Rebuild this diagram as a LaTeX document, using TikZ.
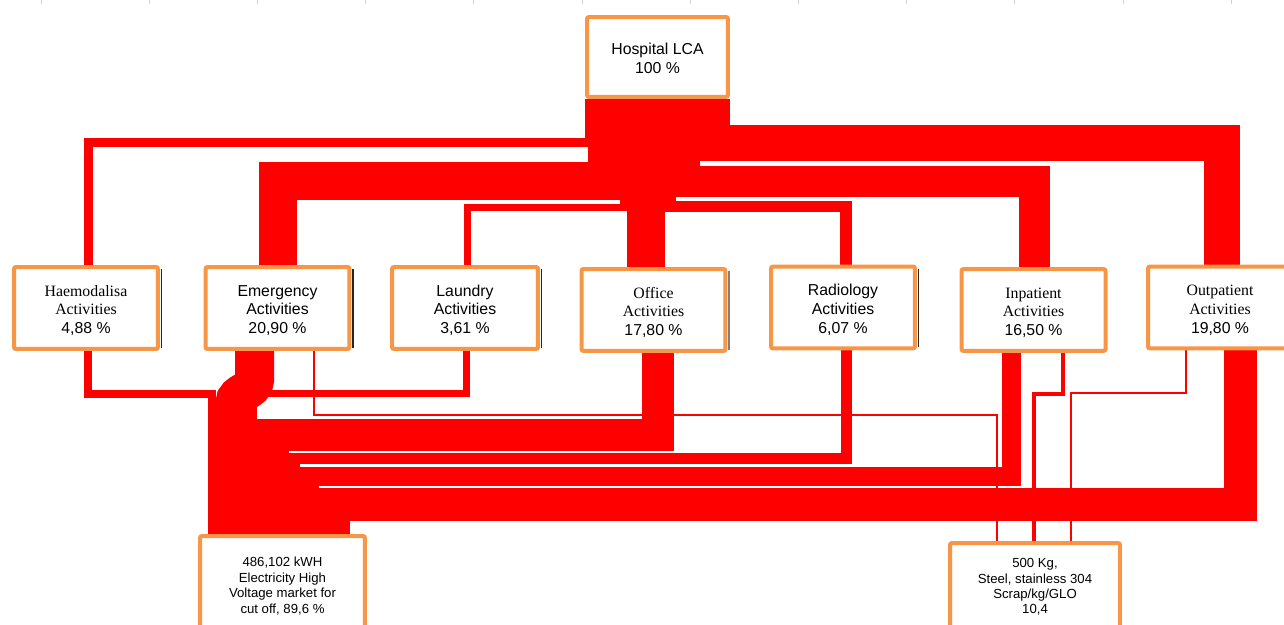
\documentclass[tikz,border=0pt]{standalone}
\usepackage{fontspec}
\setmainfont{Liberation Sans}
\newfontfamily\timesfont{Liberation Serif}
\usetikzlibrary{backgrounds}
\definecolor{boxorange}{RGB}{247,150,70}
\definecolor{flowred}{RGB}{255,0,0}
\newcommand{\boxlines}[2][-1.8pt]{\raisebox{#1}[\height][\depth]{\begin{tabular}{@{}c@{}}#2\end{tabular}}}

\begin{document}
\begin{tikzpicture}[x=0.02cm, y=-0.02cm]
        \tikzstyle{frame}=[rectangle, draw=boxorange, line width=0.08cm, fill=white, rounded corners=0.04cm, inner sep=0pt, text=black]
        \tikzstyle{box}=[frame, minimum width=2.88cm, minimum height=1.64cm, font=\fontsize{9}{10.7}\selectfont]
        \tikzstyle{sink}=[frame, anchor=north, align=center, font=\fontsize{7.5}{8.8}\selectfont]
        \tikzset{flow/.style={draw=flowred, line width=#1*0.02cm},
                 rim/.style={append after command={([xshift=0.03cm,yshift=-0.08cm]\tikzlastnode.north east) edge[draw=#1, line width=0.03cm] ([xshift=0.03cm,yshift=0.06cm]\tikzlastnode.south east)}},
                 rim/.default=black!85}

        \useasboundingbox (0,0) rectangle (1284,625);
        \foreach \i in {0,...,11}
            \draw[gray!35, line width=0.02cm] (41+108.2*\i,0) -- (41+108.2*\i,4);

        \node[box, minimum width=2.82cm, minimum height=1.6cm] (hosp) at (657.5,57) {\boxlines[-2pt]{Hospital LCA\\100 \%}};

        \node[box, rim] (haemo)  at (86,308)     {\boxlines{{\timesfont Haemodalisa}\\{\timesfont Activities}\\4,88 \%}};
        \node[box, rim] (emerg)  at (277.5,308)  {\boxlines{Emergency\\Activities\\20,90 \%}};
        \node[box, rim, minimum width=2.92cm] (laund) at (465,308) {\boxlines{Laundry\\Activities\\3,61 \%}};
        \node[box, rim=gray] (office) at (653.5,310) {\boxlines{{\timesfont Office}\\{\timesfont Activities}\\17,80 \%}};
        \node[box, rim] (radio)  at (843,307.5)  {\boxlines{Radiology\\Activities\\6,07 \%}};
        \node[box] (inpat)       at (1033.5,310) {\boxlines{{\timesfont Inpatient}\\{\timesfont Activities}\\16,50 \%}};
        \node[box] (outpat)      at (1220,307.5) {\boxlines{{\timesfont Outpatient}\\{\timesfont Activities}\\19,80 \%}};

        \node[sink, minimum width=3.3cm, minimum height=2.0cm] (elec)  at (282.5,534) {486,102 kWH\\Electricity High\\Voltage market for\\cut off, 89,6 \%};
        \node[sink, minimum width=3.4cm, minimum height=1.76cm] (steel) at (1035,541) {500 Kg,\\Steel, stainless 304\\Scrap/kg/GLO\\10,4};

        \begin{pgfonlayer}{background}
        \draw[flow=9]    (hosp.south -| 589.5,0) |- (88,142.5)   -- (haemo.north -| 88,0);
        \draw[flow=38]   (hosp.south -| 606.5,0) |- (278,180.5)  -- (emerg.north -| 278,0);
        \draw[flow=7]    (hosp.south -| 623.5,0) |- (467.5,207.5) -- (laund.north -| 467.5,0);
        \draw[flow=38]   (hosp.south -| 646,0)   -- (office.north -| 646,0);
        \draw[flow=11.5] (hosp.south -| 670.5,0) |- (846,206.5)  -- (radio.north -| 846,0);
        \draw[flow=31]   (hosp.south -| 684.5,0) |- (1034,181)   -- (inpat.north -| 1034,0);
        \draw[flow=36]   (hosp.south -| 712,0)   |- (1221.5,142.5) -- (outpat.north -| 1221.5,0);

        \draw[flow=8]    (haemo.south -| 88,0)     |- (211.5,393.5) -- (elec.north -| 211.5,0);
        \draw[flow=39]   (emerg.south -| 254.5,0)  -- (254.5,380) .. controls (254.5,392) and (235,391) .. (235,403) -- (elec.north -| 235,0);
        \draw[flow=7]    (laund.south -| 466.5,0)  |- (253.5,393.5) -- (elec.north -| 253.5,0);
        \draw[flow=32]   (office.south -| 657.5,0) |- (273,435)   -- (elec.north -| 273,0);
        \draw[flow=11]   (radio.south -| 846,0)    |- (294.5,458) -- (elec.north -| 294.5,0);
        \draw[flow=19]   (inpat.south -| 1011.5,0) |- (309.5,476) -- (elec.north -| 309.5,0);
        \draw[flow=33]   (outpat.south -| 1240.5,0) |- (333.5,504) -- (elec.north -| 333.5,0);

        \draw[flow=2]    (emerg.south -| 314,0)   |- (997,415)  -- (steel.north -| 997,0);
        \draw[flow=4]    (inpat.south -| 1063,0)  |- (1034,394) -- (steel.north -| 1034,0);
        \draw[flow=2]    (outpat.south -| 1186,0) |- (1071,393) -- (steel.north -| 1071,0);
        \end{pgfonlayer}
    \end{tikzpicture}
\end{document}
